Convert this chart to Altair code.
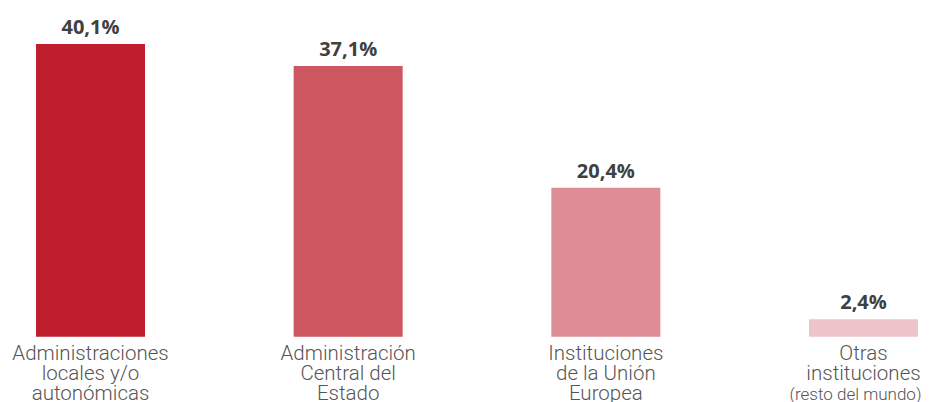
import altair as alt
import pandas as pd

categories = [
    "Administraciones locales y/o autonómicas",
    "Administración Central del Estado",
    "Instituciones de la Unión Europea",
    "Otras instituciones (resto del mundo)",
]
values = [40.1, 37.1, 20.4, 2.4]
value_labels = ["40,1%", "37,1%", "20,4%", "2,4%"]
label_lines = [
    ["Administraciones", "locales y/o", "autonómicas"],
    ["Administración", "Central del", "Estado"],
    ["Instituciones", "de la Unión", "Europea"],
    ["Otras", "instituciones"],
]
extra_lines = ["", "", "", "(resto del mundo)"]
colors = ["#BE1E2D", "#CD5761", "#DE8C95", "#EEC4C9"]

df = pd.DataFrame({
    "cat": categories,
    "value": values,
    "vlabel": value_labels,
    "lines": label_lines,
    "extra": extra_lines,
})

xscale = alt.Scale(domain=categories, paddingInner=0.577, paddingOuter=0.0602, align=0.903)
x = alt.X("cat:N", sort=categories, scale=xscale, axis=None)
yscale = alt.Scale(domain=[-8.95, 45.03], nice=False, zero=False)

base = alt.Chart(df)

bars = base.mark_bar().encode(
    x=x,
    y=alt.Y("value:Q", scale=yscale, axis=None),
    color=alt.Color("cat:N", scale=alt.Scale(domain=categories, range=colors), legend=None),
)

vtext = base.mark_text(
    dy=-10, baseline="alphabetic", font="Open Sans", fontWeight="bold",
    fontSize=20, color="#404040",
).encode(x=x, y=alt.Y("value:Q", scale=yscale, axis=None), text="vlabel:N")

ctext = base.mark_text(
    dy=23, baseline="alphabetic", font="Roboto", fontWeight=300,
    fontSize=20.5, lineHeight=20, color="#555555",
).encode(x=x, y=alt.datum(0), text="lines")

etext = base.mark_text(
    dy=63, dx=-8, baseline="alphabetic", font="Roboto", fontWeight=300,
    fontSize=17, color="#555555",
).encode(x=x, y=alt.datum(0), text="extra:N")

chart = alt.layer(bars, vtext, ctext, etext).properties(
    width=913, height=394,
    autosize=alt.AutoSizeParams(type="none"),
    padding=0,
).configure_view(stroke=None)

chart.save("out.html", embed_options={"renderer": "svg", "actions": False})
